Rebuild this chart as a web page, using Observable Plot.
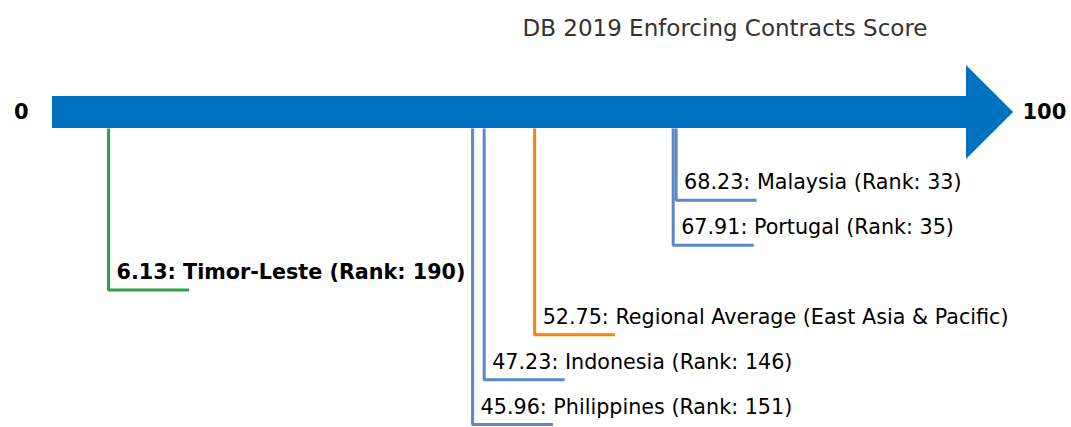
<!DOCTYPE html>
<html>
<head>
<meta charset="utf-8">
<script src="https://cdn.jsdelivr.net/npm/d3@7"></script>
<script src="https://cdn.jsdelivr.net/npm/@observablehq/plot@0.6"></script>
<style>
  html, body { margin: 0; padding: 0; background: #fff; }
  #wrap { width: 1071px; height: 427px; position: relative; font-family: "DejaVu Sans", sans-serif; }
  #title { height: 50px; position: relative; }
  #title span { position: absolute; left: 725px; top: 28px; transform: translate(-50%, -50%); font-size: 23px; color: #333; white-space: nowrap; }
  svg { display: block; }
</style>
</head>
<body>
<div id="wrap">
  <div id="title"><span>DB 2019 Enforcing Contracts Score</span></div>
  <div id="chart"></div>
</div>
<script>
// ---- data ----
const names = ["Malaysia", "Portugal", "Timor-Leste", "Regional Average (East Asia & Pacific)", "Indonesia", "Philippines"];
const scores = [68.23, 67.91, 6.13, 52.75, 47.23, 45.96];
const ranks = [33, 35, 190, null, 146, 151];
const groups = ["peer", "peer", "focus", "regional", "peer", "peer"];
const levels = [1, 2, 3, 4, 5, 6];
const endLabels = ["0", "100"];
const endValues = [0, 100];

// ---- layout constants (in scale units) ----
const barTop = -1.316, barBottom = -0.602, barMid = -0.959;
const headTop = -2.008, headBottom = 0.089, headLen = 5.15;
const legLen = 8.8;

const items = names.map((n, i) => ({
  name: n, score: scores[i], rank: ranks[i], group: groups[i], level: levels[i],
  label: `${scores[i].toFixed(2)}: ${n}` + (ranks[i] != null ? ` (Rank: ${ranks[i]})` : "")
}));

const legs = items.flatMap((d, i) => [
  {id: i, group: d.group, x: d.score, y: barBottom},
  {id: i, group: d.group, x: d.score, y: d.level},
  {id: i, group: d.group, x: d.score + legLen, y: d.level}
]);

const head = [
  {x: 100, y1: headTop, y2: headBottom},
  {x: 100 + headLen, y1: barMid, y2: barMid}
];

const textOpts = {x: "score", y: "level", text: "label", textAnchor: "start", lineAnchor: "bottom", dx: 8, dy: -11, fontSize: 20.7, fill: "#000"};

const chart = Plot.plot({
  width: 1071,
  height: 377,
  margin: 0,
  x: {domain: [0, 100], range: [52, 966], axis: null},
  y: {domain: [0, 6], range: [105, 374], axis: null},
  color: {domain: ["peer", "focus", "regional"], range: ["#5a88c8", "#2ca049", "#ff7f0e"]},
  style: {fontFamily: "DejaVu Sans, sans-serif", color: "#000", background: "#fff"},
  marks: [
    Plot.rect([{x1: 0, x2: 100, y1: barTop, y2: barBottom}], {x1: "x1", x2: "x2", y1: "y1", y2: "y2", fill: "#0070c0"}),
    Plot.areaY(head, {x: "x", y1: "y1", y2: "y2", fill: "#0070c0", curve: "linear"}),
    Plot.line(legs, {x: "x", y: "y", z: "id", stroke: d => d.group, strokeWidth: 3, strokeLinejoin: "miter", strokeLinecap: "butt"}),
    Plot.text(items.filter(d => d.group !== "focus"), {...textOpts, fontWeight: "normal"}),
    Plot.text(items.filter(d => d.group === "focus"), {...textOpts, fontWeight: "bold"}),
    Plot.text([endValues[0]], {x: d => d, y: [barMid], text: [endLabels[0]], textAnchor: "end", dx: -24, fontSize: 21, fontWeight: "bold", fill: "#000"}),
    Plot.text([endValues[1]], {x: d => d, y: [barMid], text: [endLabels[1]], textAnchor: "start", dx: 56, fontSize: 21, fontWeight: "bold", fill: "#000"})
  ]
});
document.getElementById("chart").appendChild(chart);
</script>
</body>
</html>
